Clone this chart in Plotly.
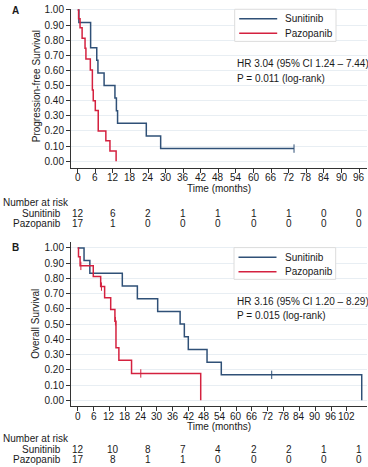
import plotly.graph_objects as go

W, H = 368, 467
FONT = "Liberation Sans, Arial, Helvetica, sans-serif"
BLUE = "#2f5077"
RED = "#d4213f"
GRID = "#e8eef3"
TXT = "#1a1a1a"

# ---------------- data ----------------
groups = ["Sunitinib", "Pazopanib"]

# Panel A: progression-free survival
pfs_sun_t = [0, 0.4, 4.4, 6.5, 6.9, 9.0, 12.7, 13.2, 13.6, 23.4, 28.3, 73.8]
pfs_sun_s = [1, 0.917, 0.75, 0.667, 0.583, 0.5, 0.417, 0.333, 0.25, 0.167, 0.083, 0.083]
pfs_sun_cens_t = [73.8]
pfs_sun_cens_s = [0.083]

pfs_paz_t = [0, 0.3, 0.8, 1.5, 2.5, 2.8, 4.3, 5.0, 5.3, 6.0, 7.0, 9.6, 11.0, 13.1]
pfs_paz_s = [1, 0.941, 0.882, 0.812, 0.747, 0.675, 0.603, 0.47, 0.40, 0.335, 0.20, 0.135, 0.067, 0]

# Panel B: overall survival
os_sun_t = [0, 2.4, 4.6, 16.9, 22.6, 30.3, 38.8, 40.4, 41.9, 49.0, 54.4, 107.6]
os_sun_s = [1, 0.917, 0.833, 0.75, 0.667, 0.583, 0.5, 0.417, 0.333, 0.25, 0.167, 0]
os_sun_cens_t = [73.5]
os_sun_cens_s = [0.167]

os_paz_t = [0, 0.3, 0.9, 5.9, 8.7, 10.2, 12.5, 14.1, 14.5, 15.6, 20.4, 46.6]
os_paz_s = [1, 0.941, 0.882, 0.813, 0.746, 0.673, 0.595, 0.519, 0.345, 0.263, 0.176, 0]
os_paz_cens_t = [1.2, 9.0, 14.3, 23.9]
os_paz_cens_s = [0.882, 0.746, 0.519, 0.176]

# Number at risk tables
risk_times = [0, 12, 24, 36, 48, 60, 72, 84, 96]
pfs_risk_sun = [12, 6, 2, 1, 1, 1, 1, 0, 0]
pfs_risk_paz = [17, 1, 0, 0, 0, 0, 0, 0, 0]
os_risk_sun = [12, 10, 8, 7, 4, 2, 2, 1, 1]
os_risk_paz = [17, 8, 1, 1, 0, 0, 0, 0, 0]

ticks_a = list(range(0, 97, 6))
ticks_b = list(range(0, 103, 6))
y_ticks = [i / 10 for i in range(11)]
y_ticktext = ["%.2f" % v for v in y_ticks]

hr_a = ["HR 3.04 (95% CI 1.24 \u2013 7.44)", "P = 0.011 (log-rank)"]
hr_b = ["HR 3.16 (95% CI 1.20 \u2013 8.29)", "P = 0.015 (log-rank)"]


def px(x):
    return x / W


def py(y):
    return 1 - y / H


fig = go.Figure()


def curve(t, s, color, xa, ya):
    fig.add_trace(go.Scatter(x=t, y=s, mode="lines", line=dict(color=color, width=1.5, shape="hv"),
                             xaxis=xa, yaxis=ya, showlegend=False, hoverinfo="skip"))


def cens(t, s, color, xa, ya):
    fig.add_trace(go.Scatter(x=t, y=s, mode="markers",
                             marker=dict(symbol="line-ns", size=6, line=dict(color=color, width=1)),
                             xaxis=xa, yaxis=ya, showlegend=False, hoverinfo="skip"))


curve(pfs_sun_t, pfs_sun_s, BLUE, "x", "y")
curve(pfs_paz_t, pfs_paz_s, RED, "x", "y")
cens(pfs_sun_cens_t, pfs_sun_cens_s, BLUE, "x", "y")

curve(os_sun_t, os_sun_s, BLUE, "x2", "y2")
curve(os_paz_t, os_paz_s, RED, "x2", "y2")
cens(os_sun_cens_t, os_sun_cens_s, BLUE, "x2", "y2")
cens(os_paz_cens_t, os_paz_cens_s, RED, "x2", "y2")

xdom = [px(71), px(367)]
common_x = dict(domain=xdom, showline=True, linecolor="#333333", linewidth=1, ticks="outside",
                ticklen=4, tickcolor="#333333", showgrid=False, zeroline=False, showticklabels=False)
common_y = dict(showline=True, linecolor="#333333", linewidth=1, ticks="outside", ticklen=4,
                tickcolor="#333333", showgrid=True, gridcolor=GRID, gridwidth=1, zeroline=False,
                tickvals=y_ticks, ticktext=y_ticktext, tickfont=dict(family=FONT, size=10, color=TXT))

fig.update_layout(
    width=W, height=H, margin=dict(l=0, r=0, t=0, b=0),
    paper_bgcolor="white", plot_bgcolor="white",
    xaxis=dict(common_x, anchor="y", range=[-2.29, 98.7], tickvals=ticks_a),
    yaxis=dict(common_y, anchor="x", domain=[py(165.5), py(4.7)], range=[-0.046, 1.0085]),
    xaxis2=dict(common_x, anchor="y2", range=[-2.54, 109.6], tickvals=ticks_b),
    yaxis2=dict(common_y, anchor="x2", domain=[py(405.7), py(240)], range=[-0.039, 1.039]),
)

ann = []
shapes = []


def text(x, y, s, xanchor="center", size=10, textangle=0, bold=False, xref="paper"):
    ann.append(dict(x=x, y=py(y), xref=xref, yref="paper", text=("<b>%s</b>" % s) if bold else s,
                    showarrow=False, xanchor=xanchor, yanchor="middle", textangle=textangle,
                    font=dict(family=FONT, size=size, color=TXT)))


panels = [
    dict(label="A", label_y=7, ytitle="Progression-free Survival", ytitle_y=83, time_y=186.5,
         nar_y=200.5, rows_y=[211.5, 221.5], risk=[pfs_risk_sun, pfs_risk_paz],
         leg=(234.7, 336, 5.3, 37.7), leg_rows=[15, 29.5], hr=hr_a, hr_y=[60, 75],
         xref="x", ticks=ticks_a, tick_y=175.5),
    dict(label="B", label_y=246, ytitle="Overall Survival", ytitle_y=322.5, time_y=426.5,
         nar_y=438, rows_y=[449, 459], risk=[os_risk_sun, os_risk_paz],
         leg=(234, 335.7, 245.7, 277.7), leg_rows=[255.5, 270], hr=hr_b, hr_y=[300, 314.5],
         xref="x2", ticks=ticks_b, tick_y=416),
]

for p in panels:
    text(px(10), p["label_y"], p["label"], xanchor="left", bold=True)
    text(px(36), p["ytitle_y"], p["ytitle"], textangle=-90)
    for t in p["ticks"]:
        text(t, p["tick_y"], str(t), xref=p["xref"])
    text(px(219), p["time_y"], "Time (months)")
    text(px(0.5), p["nar_y"], "Number at risk", xanchor="left")
    for g, ry, vals in zip(groups, p["rows_y"], p["risk"]):
        text(px(63.5), ry, g, xanchor="right")
        for t, v in zip(risk_times, vals):
            text(t, ry, str(v), xref="x")
    x0, x1, y0, y1 = p["leg"]
    shapes.append(dict(type="rect", xref="paper", yref="paper", x0=px(x0), x1=px(x1), y0=py(y1), y1=py(y0),
                       line=dict(color="#dcdcdc", width=1), fillcolor="white", layer="above"))
    for g, ry, col in zip(groups, p["leg_rows"], [BLUE, RED]):
        shapes.append(dict(type="line", xref="paper", yref="paper", x0=px(x0 + 4.5), x1=px(x0 + 42.5),
                           y0=py(ry), y1=py(ry), line=dict(color=col, width=1.5), layer="above"))
        text(px(x0 + 48.5), ry, g, xanchor="left")
    for s, ry in zip(p["hr"], p["hr_y"]):
        text(px(235), ry, s, xanchor="left")

fig.update_layout(annotations=ann, shapes=shapes)
fig.write_html("out.html", config={"displayModeBar": False, "staticPlot": True},
               post_script="document.body.style.margin='0px';document.body.style.overflow='hidden';")
